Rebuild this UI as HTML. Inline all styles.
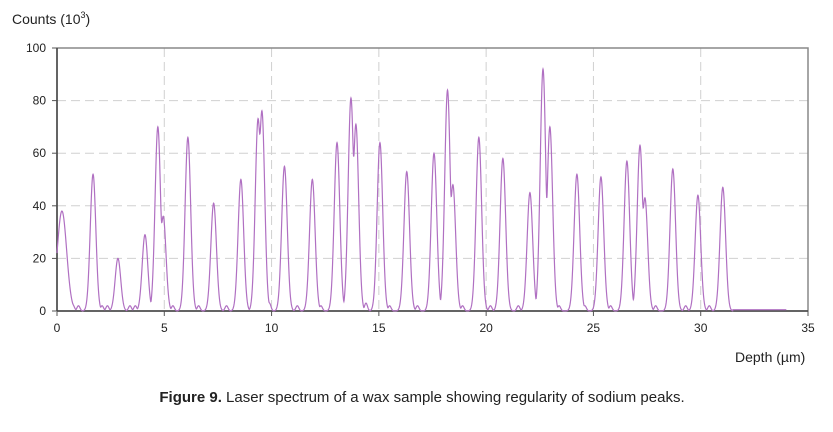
<!DOCTYPE html>
<html><head><meta charset="utf-8"><style>
body{margin:0;background:#fff;width:833px;height:427px;overflow:hidden;font-family:"Liberation Sans",Arial,sans-serif}
svg text{font-family:"Liberation Sans",Arial,sans-serif;fill:#222}
</style></head><body>
<svg id="chart" width="833" height="427">
<text x="12" y="24" font-size="14">Counts (10<tspan dy="-6" font-size="9">3</tspan><tspan dy="6">)</tspan></text>
<text x="735" y="362" font-size="14">Depth (µm)</text>
<text x="422" y="402" font-size="15" text-anchor="middle"><tspan font-weight="bold">Figure 9.</tspan> Laser spectrum of a wax sample showing regularity of sodium peaks.</text>
<g id="grid"></g><g id="axes"></g><g id="series"></g>
</svg>
<script>
const xTicks=[0,5,10,15,20,25,30,35];
const yTicks=[0,20,40,60,80,100];
const peakPos=[0.23,1.68,2.84,4.1,4.7,4.95,6.1,7.3,8.57,9.37,9.55,10.6,11.9,13.05,13.7,13.93,15.05,16.3,17.57,18.2,18.45,19.66,20.78,22.04,22.65,22.97,24.23,25.35,26.56,27.17,27.4,28.7,29.87,31.03];
const peakHeight=[38,52,20,29,70,36,66,41,50,73,76,55,50,64,81,71,64,53,60,84,48,66,58,45,92,70,52,51,57,63,43,54,44,47];
const bumpPos=[0.75,1.0,2.1,2.35,3.4,3.65,5.4,6.6,7.9,9.9,11.2,12.3,14.4,15.5,16.8,18.9,20.2,21.5,23.4,24.6,25.8,27.9,29.3,30.4];
const bumpHeight=[2,2,2,2,2,2,2,2,2,3,2,2,3,2,2,2,2,2,2,2,2,2,2,2];
const X=v=>57+v*(808-57)/35, Y=v=>311-v*(311-48)/100;
const ns="http://www.w3.org/2000/svg";
function mk(t,a,p){const e=document.createElementNS(ns,t);for(const k in a)e.setAttribute(k,a[k]);p.appendChild(e);return e;}
const g=document.getElementById('grid'),ax=document.getElementById('axes'),s=document.getElementById('series');
yTicks.forEach(v=>{
 if(v>0&&v<100){const l=mk('line',{x1:57,x2:808,y1:Y(v),y2:Y(v),stroke:'#d0d0d0','stroke-dasharray':'9,5'},g);
 
 }
 mk('line',{x1:52,x2:57,y1:Y(v),y2:Y(v),stroke:'#555'},ax);
 const t=mk('text',{x:46,y:Y(v)+4,'font-size':12,'text-anchor':'end'},ax);t.textContent=v;
 
 
});
xTicks.forEach(v=>{
 if(v>0&&v<35){const l=mk('line',{x1:X(v),x2:X(v),y1:48,y2:311,stroke:'#d0d0d0','stroke-dasharray':'9,5'},g);
 
 }
 mk('line',{x1:X(v),x2:X(v),y1:311,y2:316,stroke:'#555'},ax);
 const t=mk('text',{x:X(v),y:332,'font-size':12,'text-anchor':'middle'},ax);t.textContent=v;
 
 
});
mk('rect',{x:57,y:48,width:751,height:263,fill:'none',stroke:'#888','stroke-width':1.5},ax);
mk('line',{x1:57,x2:57,y1:48,y2:311,stroke:'#444','stroke-width':1.5},ax);
mk('line',{x1:57,x2:808,y1:311,y2:311,stroke:'#444','stroke-width':1.5},ax);
let d='';
const P=5;
for(let x=0;x<=34;x+=0.01){
 let acc=0;
 peakPos.forEach((p,i)=>{const sg=i==0?0.22:0.13;acc+=Math.pow(peakHeight[i]*Math.exp(-((x-p)**2)/(2*sg*sg)),P);});
 bumpPos.forEach((p,i)=>{acc+=Math.pow(bumpHeight[i]*Math.exp(-((x-p)**2)/(2*0.07*0.07)),P);});
 let y=Math.pow(acc,1/P);
 if(x>31.5)y=Math.max(y,0.5);
 d+=(d?'L':'M')+X(x).toFixed(2)+','+Y(Math.min(y,100)).toFixed(2);
}
const p=mk('path',{d:d,fill:'none',stroke:'#b070c2','stroke-width':1.2},s);


</script>
</body></html>
